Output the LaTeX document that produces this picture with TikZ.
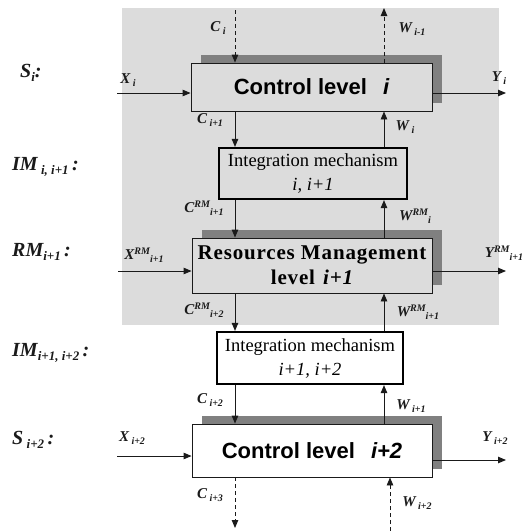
\documentclass[tikz,border=0pt]{standalone}
\usepackage{fontspec}
\setmainfont{Liberation Serif}
\newfontfamily\arialf{Liberation Sans}
\usetikzlibrary{arrows.meta,shadows}
\definecolor{panel}{HTML}{DCDCDC}
\definecolor{shadowgray}{HTML}{808080}
\definecolor{ink}{HTML}{1A1A1A}
% small raised / lowered indices in the running font
\newcommand\dn[2][10]{\raisebox{-0.45ex}{\fontsize{#1}{#1}\selectfont #2}}
\newcommand\up[2][10]{\raisebox{0.75ex}{\fontsize{#1}{#1}\selectfont #2}}
\begin{document}
\begin{tikzpicture}[x=1pt,y=-1pt,
  ctl/.style={draw=ink, line width=0.9pt, inner sep=0pt, align=center,
    general shadow={shadow xshift=10pt, shadow yshift=8pt, fill=shadowgray}},
  imbox/.style={draw=black, line width=2.2pt, inner sep=0pt, align=center,
    font=\fontsize{18.5}{24}\selectfont},
  arr/.style={-{Triangle[length=8pt,width=6.5pt]}, line width=0.9pt, draw=ink},
  darr/.style={arr, dash pattern=on 4pt off 3pt},
  vlab/.style={font=\fontsize{15}{15}\selectfont\bfseries\itshape, inner sep=0pt, text=ink},
  side/.style={font=\fontsize{20}{20}\selectfont\bfseries\itshape, anchor=west, inner sep=0pt, text=ink}]
\useasboundingbox (0,0) rectangle (525,531);
% shaded panel around the upper levels
\fill[panel] (122,8) rectangle (499,325);

% columns of the vertical connectors
\coordinate (L) at (235,0);
\coordinate (R) at (384,0);

% level boxes
\node[ctl, fill=panel, minimum width=241pt, minimum height=48pt] (cl1) at (311.5,87)
  {\arialf\bfseries\fontsize{22}{22}\selectfont Control level\hspace{16pt}\itshape i};
\node[imbox, fill=panel, minimum width=188pt, minimum height=51pt] (im1) at (313,173.5)
  {Integration mechanism\\\itshape i, i+1};
\node[ctl, fill=panel, minimum width=240pt, minimum height=55pt,
  font=\addfontfeatures{LetterSpace=4}\fontsize{21}{25}\selectfont\bfseries] (rm) at (312,265.5)
  {Resources Management\\level\hspace{8pt}{\itshape i+1}};
\node[imbox, fill=white, minimum width=186pt, minimum height=52pt] (im2) at (310,358)
  {Integration mechanism\\\itshape i+1, i+2};
\node[ctl, fill=white, minimum width=240pt, minimum height=53pt] (cl2) at (312,450.5)
  {\arialf\bfseries\fontsize{22}{22}\selectfont Control level\hspace{16pt}\itshape i+2};

% free ends of the connectors
\coordinate (ctop) at (235,10);
\coordinate (wtop) at (384,8);
\coordinate (xi) at (117,93);
\coordinate (yi) at (506,93);
\coordinate (xrm) at (118,271);
\coordinate (yrm) at (506,271);
\coordinate (x2) at (117,456);
\coordinate (y2) at (506,460);
\coordinate (cbot) at (235,528);
\coordinate (wbot) at (390,531);

% connectors
\draw[darr] (ctop) -- (cl1.north -| L);
\draw[darr] (cl1.north -| R) -- (wtop);
\draw[arr] (xi) -- (xi -| cl1.west);
\draw[arr] (xi -| cl1.east) -- (yi);
\draw[arr] (cl1.south -| L) -- (im1.north -| L);
\draw[arr] (im1.north -| R) -- (cl1.south -| R);
\draw[arr] (im1.south -| L) -- (rm.north -| L);
\draw[arr] (rm.north -| R) -- (im1.south -| R);
\draw[arr] (xrm) -- (xrm -| rm.west);
\draw[arr] (xrm -| rm.east) -- (yrm);
\draw[arr] (rm.south -| L) -- (im2.north -| L);
\draw[arr] (im2.north -| R) -- (rm.south -| R);
\draw[arr] (im2.south -| L) -- (cl2.north -| L);
\draw[arr] (cl2.north -| R) -- (im2.south -| R);
\draw[arr] (x2) -- (x2 -| cl2.west);
\draw[arr] (y2 -| cl2.east) -- (y2);
\draw[darr] (cl2.south -| L) -- (cbot);
\draw[darr] (wbot) -- (wbot |- cl2.south);

% connector labels
\node[vlab] (lci) at (218,28) {C\,\dn{i}};
\node[vlab] (lwim1) at (412,29) {W\,\dn{i-1}};
\node[vlab] (lxi) at (128,80) {X\,\dn{i}};
\node[vlab] (lyi) at (499,78) {Y\,\dn{i}};
\node[vlab] (lci1) at (210,120) {C\,\dn{i+1}};
\node[vlab] (lwi) at (405,127) {W\,\dn{i}};
\node[vlab] (lcrm1) at (204,208) {C\up{RM}\dn{i+1}};
\node[vlab] (lwrmi) at (415,216) {W\up{RM}\dn{i}};
\node[vlab] (lxrm) at (144,255) {X\up{RM}\dn{i+1}};
\node[vlab] (lyrm) at (504,253) {Y\up{RM}\dn{i+1}};
\node[vlab] (lcrm2) at (204,310) {C\up{RM}\dn{i+2}};
\node[vlab] (lwrm1) at (418,312) {W\up{RM}\dn{i+1}};
\node[vlab] (lci2) at (210,400) {C\,\dn{i+2}};
\node[vlab] (lwi1) at (411,406) {W\,\dn{i+1}};
\node[vlab] (lxi2) at (132,438) {X\,\dn{i+2}};
\node[vlab] (lyi2) at (495,438) {Y\,\dn{i+2}};
\node[vlab] (lci3) at (210,495) {C\,\dn{i+3}};
\node[vlab] (lwi2) at (417,503) {W\,\dn{i+2}};

% level names on the left
\node[side] (ss1) at (20,73) {S\dn[13]{i}:};
\node[side] (sim1) at (12,167) {IM\,\dn[13]{i, i+1}\,:};
\node[side] (srm) at (12,252) {RM\dn[13]{i+1}\,:};
\node[side] (sim2) at (12,353) {IM\dn[13]{i+1, i+2}\,:};
\node[side] (ss2) at (12,440) {S\,\dn[13]{i+2}\,:};
\end{tikzpicture}
\end{document}
